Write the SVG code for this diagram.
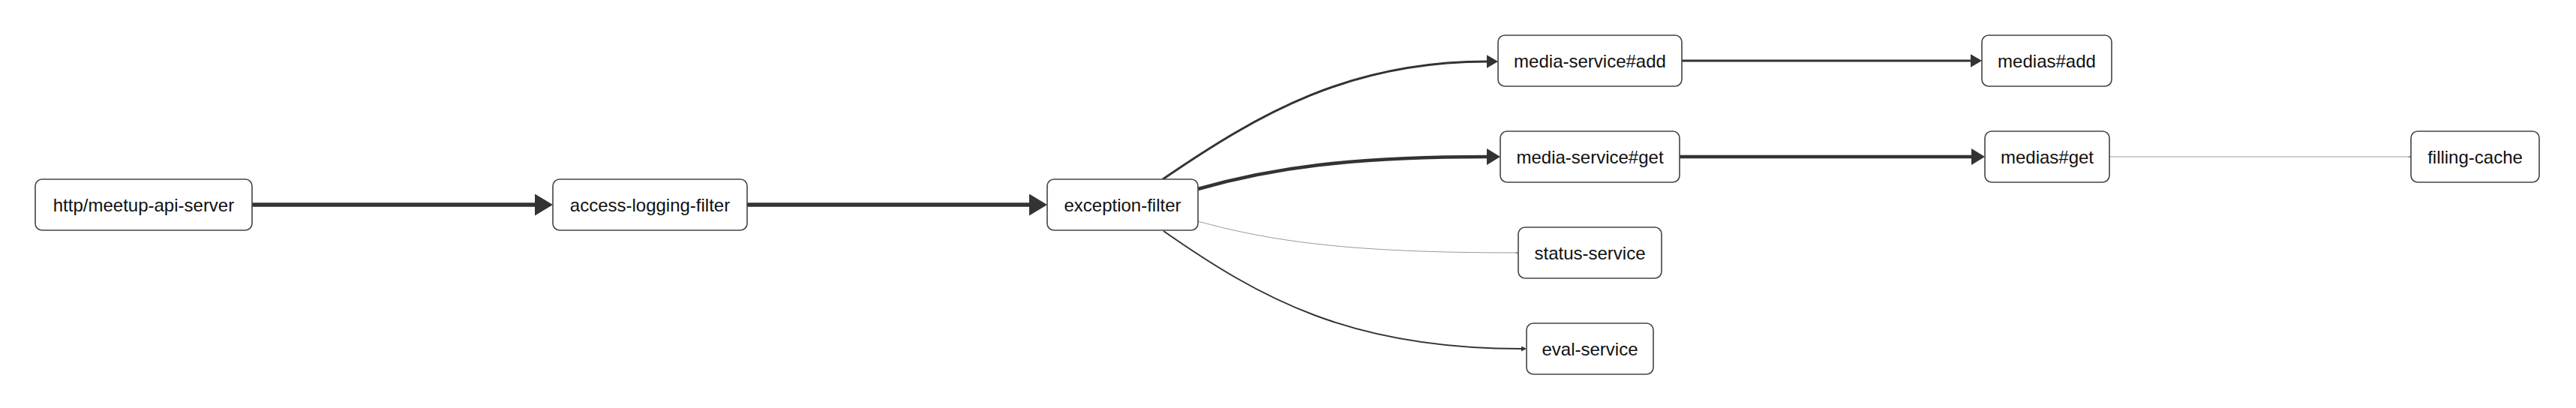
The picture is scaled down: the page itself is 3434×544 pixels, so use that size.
<svg xmlns="http://www.w3.org/2000/svg" width="3434" height="544" viewBox="0 0 3434 544">
<style>
.node rect{fill:#fff;stroke:#444;stroke-width:1.6}
.node text{font-family:"Liberation Sans",Arial,Helvetica,sans-serif;font-size:24px;fill:#111;text-anchor:middle}
.edge{fill:none;stroke:#333}
.light{stroke:#999}
</style>
<defs>
<marker id="mxl" markerUnits="userSpaceOnUse" viewBox="0 0 24 29" refX="0" refY="14.5" markerWidth="24" markerHeight="29" orient="auto"><path d="M0,0 L24,14.5 L0,29 z" fill="#333"/></marker>
<marker id="ml" markerUnits="userSpaceOnUse" viewBox="0 0 18 22" refX="0" refY="11" markerWidth="18" markerHeight="22" orient="auto"><path d="M0,0 L18,11 L0,22 z" fill="#333"/></marker>
<marker id="mm" markerUnits="userSpaceOnUse" viewBox="0 0 15 17.4" refX="0" refY="8.7" markerWidth="15" markerHeight="17.4" orient="auto"><path d="M0,0 L15,8.7 L0,17.4 z" fill="#333"/></marker>
<marker id="ms" markerUnits="userSpaceOnUse" viewBox="0 0 7 7" refX="0" refY="3.5" markerWidth="7" markerHeight="7" orient="auto"><path d="M0,0 L7,3.5 L0,7 z" fill="#333"/></marker>
<marker id="mxs" markerUnits="userSpaceOnUse" viewBox="0 0 3 3" refX="0" refY="1.5" markerWidth="3" markerHeight="3" orient="auto"><path d="M0,0 L3,1.5 L0,3 z" fill="#777"/></marker>
</defs>
<g id="connectors">
<path class="edge" d="M336,273 L713,273" stroke-width="5.5" marker-end="url(#mxl)"/>
<path class="edge" d="M996,273 L1372,273" stroke-width="5.5" marker-end="url(#mxl)"/>
<path class="edge" d="M1550,239 C1680,150 1800,82 1982,82" stroke-width="3" marker-end="url(#mm)"/>
<path class="edge" d="M1597,252 C1695,224 1800,209 1982,209" stroke-width="4.7" marker-end="url(#ml)"/>
<path class="edge light" d="M1597,295 C1695,322 1800,337 2021,337" stroke-width="1" marker-end="url(#mxs)"/>
<path class="edge" d="M1551,308 C1680,398 1800,465 2028,465" stroke-width="2" marker-end="url(#ms)"/>
<path class="edge" d="M2242,81 L2627,81" stroke-width="3" marker-end="url(#mm)"/>
<path class="edge" d="M2239,209 L2628,209" stroke-width="4.7" marker-end="url(#ml)"/>
<path class="edge light" d="M2812,209 L3211,209" stroke-width="1" marker-end="url(#mxs)"/>
</g>
<g id="n-http" class="node"><rect x="47" y="239" width="289" height="68" rx="9"/><text x="191.5" y="281.5">http/meetup-api-server</text></g>
<g id="n-access" class="node"><rect x="737" y="239" width="259" height="68" rx="9"/><text x="866.5" y="281.5">access-logging-filter</text></g>
<g id="n-exception" class="node"><rect x="1396" y="239" width="201" height="68" rx="9"/><text x="1496.5" y="281.5">exception-filter</text></g>
<g id="n-msadd" class="node"><rect x="1997" y="47" width="245" height="68" rx="9"/><text x="2119.5" y="89.5">media-service#add</text></g>
<g id="n-msget" class="node"><rect x="2000" y="175" width="239" height="68" rx="9"/><text x="2119.5" y="217.5">media-service#get</text></g>
<g id="n-status" class="node"><rect x="2024" y="303" width="191" height="68" rx="9"/><text x="2119.5" y="345.5">status-service</text></g>
<g id="n-eval" class="node"><rect x="2035" y="431" width="169" height="68" rx="9"/><text x="2119.5" y="473.5">eval-service</text></g>
<g id="n-madd" class="node"><rect x="2642" y="47" width="173" height="68" rx="9"/><text x="2728.5" y="89.5">medias#add</text></g>
<g id="n-mget" class="node"><rect x="2646" y="175" width="166" height="68" rx="9"/><text x="2729" y="217.5">medias#get</text></g>
<g id="n-cache" class="node"><rect x="3214" y="175" width="171" height="68" rx="9"/><text x="3299.5" y="217.5">filling-cache</text></g>
</svg>
